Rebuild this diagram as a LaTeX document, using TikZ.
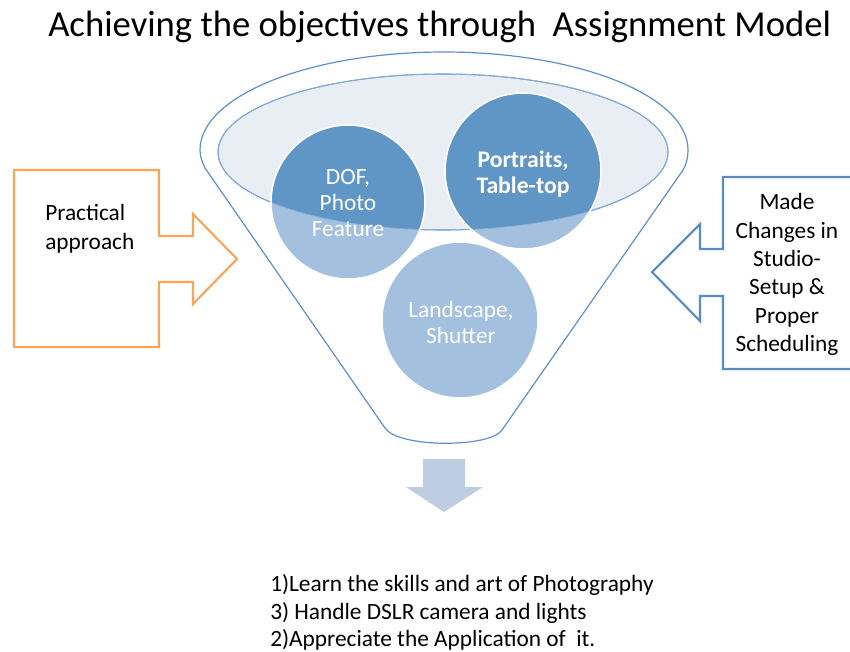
\documentclass[tikz,border=0pt]{standalone}
\usepackage{fontspec}
\setmainfont{Carlito}
\definecolor{funnelblue}{HTML}{5E8FCB}
\definecolor{innerfill}{HTML}{E9EDF4}
\definecolor{darkcirc}{HTML}{6096C6}
\definecolor{lightcirc}{HTML}{A3C1DE}
\definecolor{orangeline}{HTML}{F9A65A}
\definecolor{blueline}{HTML}{5B8BC5}
\definecolor{downarrow}{HTML}{BFCDE2}
\tikzset{
  circtext/.style={text=white, align=center, font=\fontsize{17.5}{19.5}\selectfont, inner sep=0pt},
  sidetext/.style={text=black, font=\fontsize{17.5}{21.5}\selectfont, inner sep=0pt},
  funnelline/.style={draw=funnelblue, line width=0.9pt},
}
\begin{document}
\begin{tikzpicture}[x=0.75pt,y=0.75pt]
\useasboundingbox (0,0) rectangle (850,-651);
% title
\node[anchor=base west, inner sep=0pt, font=\fontsize{27.5}{32}\selectfont] (title) at (48,-36) {Achieving the objectives through\ \ Assignment Model};
% funnel outline
\draw[funnelline] (205,-168) -- (385,-428) .. controls (398,-448) and (490,-448) .. (502,-430) -- (683,-170)
  .. controls (687,-163) and (688,-156) .. (688,-150)
  arc[start angle=0, end angle=180, x radius=244, y radius=98]
  .. controls (200,-156) and (202,-162) .. (205,-168) -- cycle;
% inner ellipse
\draw[fill=innerfill, draw=funnelblue, line width=0.8pt] (443,-152) ellipse [x radius=225, y radius=78];
% circles light
\fill[lightcirc] (348,-202) circle[radius=77];
\fill[lightcirc] (523,-171) circle[radius=78];
\fill[lightcirc] (460,-320) circle[radius=78];
% dark parts inside ellipse
\begin{scope}
  \clip (443,-152) ellipse [x radius=225, y radius=78];
  \fill[darkcirc] (348,-202) circle[radius=77];
  \fill[darkcirc] (523,-171) circle[radius=78];
\end{scope}
\draw[draw=funnelblue!70, line width=0.5pt] (443,-152) ellipse [x radius=225, y radius=78];
% white outlines
\draw[white, line width=1.2pt] (348,-202) circle[radius=77];
\draw[white, line width=1.2pt] (523,-171) circle[radius=78];
\draw[white, line width=1.2pt] (460,-320) circle[radius=78];
% circle texts
\node[circtext] (dof) at (348,-203.5) {DOF,\\Photo\\Feature};
\node[circtext, font=\fontsize{17.8}{19}\selectfont\bfseries] (portraits) at (523,-174) {Portraits,\\Table-top};
\node[circtext] (landscape) at (461,-322.5) {Landscape,\\Shutter};
% left orange arrow
\draw[orangeline, line width=1.6pt, line join=miter] (14,-170) -- (159,-170) -- (159,-236) -- (193,-236) -- (193,-214) -- (237,-259) -- (193,-304) -- (193,-282) -- (159,-282) -- (159,-347) -- (14,-347) -- cycle;
\node[sidetext, anchor=west, align=left] (practical) at (45,-228.5) {Practical\\approach};
% right blue arrow
\draw[blueline, line width=1.6pt, line join=miter] (870,-177) -- (723,-177) -- (723,-249) -- (700,-249) -- (700,-224) -- (652,-272) -- (700,-321) -- (700,-296) -- (723,-296) -- (723,-369) -- (870,-369);
\node[sidetext, align=center, font=\fontsize{17.5}{21.2}\selectfont] (made) at (787,-274.5) {Made\\Changes in\\Studio-\\Setup \&\\Proper\\Scheduling};
% down arrow
\fill[downarrow] (423,-459) -- (465,-459) -- (465,-487) -- (483,-487) -- (444,-512) -- (406,-487) -- (423,-487) -- cycle;
% bottom text
\node[anchor=west, align=left, inner sep=0pt, font=\fontsize{17.5}{20.6}\selectfont] (results) at (270,-612.5) {1)Learn the skills and art of Photography\\3) Handle DSLR camera and lights\\2)Appreciate the Application of\ \ it.};
\end{tikzpicture}
\end{document}
